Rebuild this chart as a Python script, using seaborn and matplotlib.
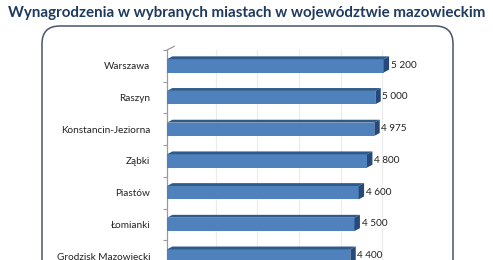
"""
Horizontal bar chart: salaries in selected towns of the Mazowieckie voivodeship.
Excel-style 3D bars, cropped at the bottom as in the reference.
"""
import matplotlib as mpl
mpl.use("Agg")
import matplotlib.pyplot as plt
from matplotlib.patches import FancyBboxPatch, Polygon
from matplotlib.transforms import ScaledTranslation
import pandas as pd
import seaborn as sns

TITLE = "Wynagrodzenia w wybranych miastach w województwie mazowieckim"
CITIES = ["Warszawa", "Raszyn", "Konstancin-Jeziorna", "Ząbki", "Piastów",
          "Łomianki", "Grodzisk Mazowiecki"]
SALARIES = [5200, 5000, 4975, 4800, 4600, 4500, 4400]
GRID_TICKS = [1000, 2000, 3000, 4000, 5000, 6000]

BAR_COLOR = "#4F81BD"
BAR_DARK = "#2E5A8C"
TITLE_COLOR = "#1F3A5F"
FRAME_COLOR = "#46556A"

W, H, DPI = 493, 260, 100


def px(x, y):
    """pixel position (from top-left) -> figure fraction"""
    return x / W, 1 - y / H


def main():
    sns.set_theme(style="white")
    plt.rcParams["font.family"] = ["Lato", "DejaVu Sans"]

    fig = plt.figure(figsize=(W / DPI, H / DPI), dpi=DPI, facecolor="white")

    # rounded chart frame, running off the bottom edge
    x0, y0 = px(42, 26)
    x1, _ = px(453, 26)
    frame = FancyBboxPatch((x0, -0.2), x1 - x0, y0 + 0.2,
                           boxstyle="round,pad=0,rounding_size=0.036",
                           transform=fig.transFigure, fill=False,
                           edgecolor=FRAME_COLOR, linewidth=1.1,
                           mutation_aspect=W / H)
    fig.add_artist(frame)

    fig.text(0.5, 1 - 13 / H, TITLE, ha="center", va="center",
             fontsize=10.9, fontweight="bold", color=TITLE_COLOR)

    # axes area: 31.7 px per category, extends below the figure
    row = 31.7
    left, top = 167, 50
    width_px = 250
    height_px = row * len(CITIES)
    ax = fig.add_axes([left / W, 1 - (top + height_px) / H,
                       width_px / W, height_px / H])
    ax.set_facecolor("none")

    df = pd.DataFrame({"city": CITIES, "salary": SALARIES})
    sns.barplot(data=df, x="salary", y="city", orient="h", color=BAR_COLOR,
                saturation=1, width=0.42, edgecolor=BAR_COLOR, linewidth=0,
                ax=ax, zorder=3)

    ax.set_xlim(0, 6000)
    ax.set_ylim(len(CITIES) - 0.5, -0.5)

    # back-wall gridlines, offset like the Excel 3D depth
    depth = ScaledTranslation(7 / DPI, 5 / DPI, fig.dpi_scale_trans)
    for g in GRID_TICKS:
        ln = ax.axvline(g, color="#EBEBEB", linewidth=0.8, zorder=0)
        ln.set_transform(ln.get_transform() + depth)

    # 3D top face and end cap for each bar
    dy = 0.09
    off = 130  # x shift of the depth in data units
    for patch, val in zip(ax.patches, SALARIES):
        bx, by = patch.get_x(), patch.get_y()
        bw, bh = patch.get_width(), patch.get_height()
        top_face = Polygon([(bx, by), (bx + off, by - dy), (bx + bw + off, by - dy),
                            (bx + bw, by)], closed=True, facecolor=BAR_DARK,
                           edgecolor="none", zorder=3)
        cap = Polygon([(bx + bw, by), (bx + bw + off, by - dy),
                       (bx + bw + off, by + bh - dy), (bx + bw, by + bh)],
                      closed=True, facecolor="#24497A", edgecolor="none", zorder=3)
        ax.add_patch(top_face)
        ax.add_patch(cap)
        label = f"{val:,}".replace(",", " ")
        ax.text(bx + bw + off + 40, by + bh / 2 - 0.02, label, ha="left",
                va="center", fontsize=7.2, color="#222222", zorder=4)

    # category axis with small ticks between rows
    for s in ["top", "right", "bottom"]:
        ax.spines[s].set_visible(False)
    ax.spines["left"].set_color("#9A9A9A")
    ax.spines["left"].set_linewidth(0.9)
    ax.set_xticks([])
    ax.set_yticks(range(len(CITIES)))
    ax.set_yticklabels(CITIES)
    ax.set_yticks([i + 0.5 for i in range(-1, len(CITIES))], minor=True)
    ax.tick_params(axis="y", which="major", length=0, pad=12,
                   labelsize=7.2, labelcolor="#222222")
    ax.tick_params(axis="y", which="minor", length=3, width=0.8,
                   color="#9A9A9A", left=True)
    ax.set_xlabel("")
    ax.set_ylabel("")

    # diagonal stub at the top of the axis (3D depth)
    ax.plot([0, 0.03], [-0.5, -0.5 - 0.12], transform=ax.get_yaxis_transform(),
            color="#9A9A9A", linewidth=0.9, clip_on=False)

    fig.savefig("out.png", dpi=DPI, facecolor="white")


if __name__ == "__main__":
    main()
